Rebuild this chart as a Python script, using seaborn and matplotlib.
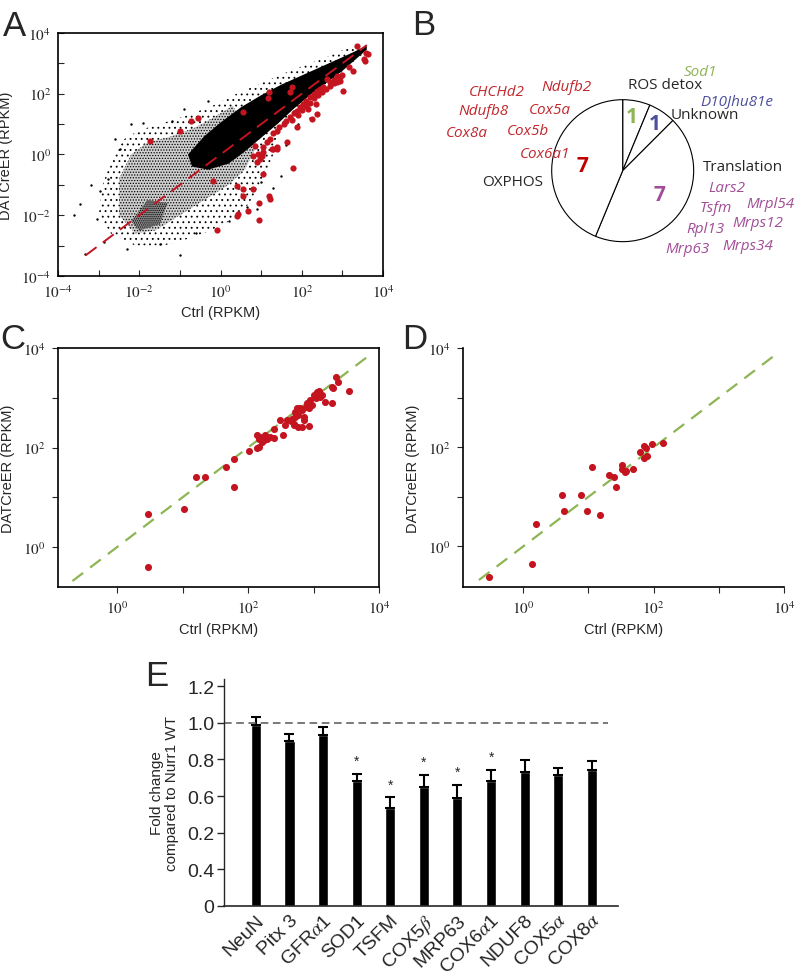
import numpy as np
import pandas as pd
import seaborn as sns
import matplotlib.pyplot as plt
from matplotlib.ticker import FixedLocator, FuncFormatter, NullLocator

# ---- panel A (log10 values) ----
# outlines of the dense core, the medium and the sparse parts of the black cloud
core_x = [-0.8, -0.4, 0.0, 0.5, 1.0, 1.5, 2.0, 2.5, 3.0, 3.4, 3.6,
          3.6, 3.3, 3.0, 2.6, 2.2, 1.8, 1.4, 1.0, 0.6, 0.2, -0.3, -0.7]
core_y = [0.0, 0.6, 1.05, 1.55, 1.95, 2.3, 2.6, 2.9, 3.2, 3.45, 3.6,
          3.45, 3.1, 2.75, 2.35, 1.95, 1.5, 1.0, 0.55, 0.1, -0.3, -0.5, -0.4]
mid_x = [-2.5, -2.2, -1.8, -1.2, -0.6, -0.2, 0.3, 0.9, 0.6, 0.2, -0.4, -1.0, -1.6, -2.1, -2.5]
mid_y = [-0.8, 0.0, 0.4, 0.6, 0.9, 1.2, 1.6, 0.3, -0.5, -1.0, -1.5, -2.0, -2.5, -2.6, -2.0]
knot_x = [-2.2, -1.8, -1.3, -1.5, -2.0]
knot_y = [-2.2, -1.5, -1.6, -2.3, -2.5]
outer_x = [-3.0, -2.9, -2.7, -2.5, -2.0, -1.5, -0.8, -0.2, 0.4, 1.0, 1.8, 2.6, 3.3,
           3.5, 2.8, 2.0, 1.5, 1.3, 1.0, 0.6, 0.1, -0.6, -1.4, -2.1, -2.7]
outer_y = [-2.0, -1.0, -0.2, 0.4, 0.8, 1.0, 1.3, 1.6, 2.0, 2.35, 2.8, 3.2, 3.6,
           3.3, 2.5, 1.6, 0.9, 0.0, -1.0, -1.8, -2.3, -2.7, -3.0, -3.0, -2.6]
black_a = [(-3.46, -1.63), (-2.97, -1.19), (-3.05, -2.12), (-3.34, -3.28), (-2.88, -2.89),
           (-1.49, -2.95), (-2.76, -0.81), (-2.47, 0.18), (0.64, -1.74), (-3.2, -1.0),
           (-2.6, 0.5), (-1.9, 1.05), (-1.2, 1.1), (-0.9, 1.5), (-0.3, 1.75), (0.9, -1.8),
           (1.3, -1.1), (1.5, -0.7), (-2.2, 1.0), (-0.6, -2.6), (0.2, -2.2), (-3.6, -2.0),
           (-2.3, -3.1), (1.0, -0.9), (2.2, 1.2), (1.6, 0.3), (1.9, 1.0), (-1.0, -3.3)]
red_a = [(3.37, 3.58), (3.57, 3.33), (3.64, 3.31), (3.52, 3.14), (3.56, 3.07), (3.15, 2.87),
         (3.27, 2.76), (3.02, 2.10), (2.86, 2.38), (2.70, 2.38), (2.53, 2.21), (2.37, 2.10),
         (2.20, 1.88), (2.04, 1.66), (1.88, 1.44), (1.71, 1.22), (1.55, 1.00), (1.38, 0.78),
         (1.22, 0.51), (1.05, 0.24), (0.93, 0.02), (1.20, 2.05), (1.18, 1.85), (1.75, 2.21),
         (1.71, 2.05), (0.56, 1.39), (2.37, 1.33), (2.24, 1.17), (1.88, 0.90), (1.63, 0.40),
         (1.38, 0.24), (1.26, 0.18), (2.86, 2.59), (2.94, 2.43), (2.61, 2.49), (-1.74, 0.45),
         (-1.0, 0.76), (-0.73, 1.09), (-0.55, 1.19), (-0.18, -0.87), (-0.08, -2.49),
         (0.40, -1.03), (0.44, -1.97), (0.40, -2.02), (0.56, -1.14), (0.56, -1.36),
         (0.68, -1.86), (0.81, -1.14), (0.95, -1.60), (0.95, -2.15), (1.05, -0.65),
         (1.20, -1.36), (1.22, -1.47), (1.14, 0.40), (1.30, 0.18), (1.38, 0.18), (1.79, -0.43),
         (0.81, -0.04), (0.89, -0.26), (1.01, -0.04), (1.05, 0.07), (0.85, 0.29), (0.97, -0.15),
         (3.0, 2.6), (2.95, 2.55), (2.8, 2.45), (2.45, 2.15), (2.3, 2.0), (2.1, 1.75),
         (1.95, 1.55), (1.8, 1.35), (1.6, 1.1), (1.45, 0.9), (1.3, 0.7), (2.0, 1.45),
         (2.1, 1.6), (2.2, 1.7), (2.3, 1.85), (2.4, 1.95), (2.5, 2.05), (2.6, 2.15),
         (2.7, 2.25), (2.15, 1.5), (2.35, 1.65), (1.9, 1.3), (1.75, 1.15), (2.8, 2.35)]
diag_a = [-3.32, 3.6]

# ---- panel B ----
pie_groups = ['ROS detox', 'Unknown', 'Translation', 'OXPHOS']
pie_counts = [1, 1, 7, 7]
oxphos_genes = ['CHCHd2', 'Ndufb2', 'Ndufb8', 'Cox5a', 'Cox8a', 'Cox5b', 'Cox6a1']
transl_genes = ['Lars2', 'Tsfm', 'Mrpl54', 'Rpl13', 'Mrps12', 'Mrp63', 'Mrps34']

# ---- panel C / D (log10) ----
c_x = [0.48, 0.48, 1.02, 1.20, 1.35, 1.66, 1.79, 1.78, 2.01, 2.14, 2.16, 2.13, 2.19, 2.24, 2.29,
       2.34, 2.39, 2.26, 2.21, 2.16, 2.40, 2.53, 2.49, 2.57, 2.65, 2.70, 2.67, 2.72, 2.72, 2.77,
       2.80, 2.82, 2.85, 2.88, 2.90, 2.93, 2.95, 2.98, 3.00, 3.03, 3.05, 3.08, 3.10, 3.13, 3.18,
       3.28, 3.30, 3.35, 3.38, 3.54, 2.77, 2.82, 2.93, 2.70, 2.60, 2.75, 2.85, 3.28]
c_y = [0.67, -0.40, 0.77, 1.41, 1.40, 1.60, 1.77, 1.21, 1.93, 2.00, 2.01, 2.26, 2.21, 2.15, 2.18,
       2.21, 2.19, 2.26, 2.11, 2.18, 2.37, 2.25, 2.55, 2.45, 2.53, 2.48, 2.58, 2.62, 2.72, 2.66,
       2.79, 2.75, 2.62, 2.82, 2.89, 2.79, 2.95, 2.85, 3.05, 2.99, 3.12, 3.13, 3.02, 3.05, 2.92,
       2.89, 3.20, 3.42, 3.32, 3.14, 2.42, 2.42, 2.44, 2.45, 2.55, 2.79, 2.55, 3.22]
d_x = [-0.53, 0.13, 0.20, 0.59, 0.62, 0.88, 0.98, 1.05, 1.18, 1.31, 1.39, 1.42, 1.52, 1.52,
       1.56, 1.58, 1.69, 1.79, 1.86, 1.88, 1.86, 1.90, 1.98, 2.14]
d_y = [-0.61, -0.36, 0.46, 1.04, 0.71, 1.04, 0.71, 1.60, 0.63, 1.45, 1.41, 1.19, 1.64, 1.56,
       1.51, 1.53, 1.57, 1.91, 2.02, 1.98, 1.78, 1.83, 2.06, 2.08]
diag_cd = [-0.68, 3.84]

# ---- panel E ----
genes = ['NeuN', 'Pitx 3', r'GFR$\alpha$1', 'SOD1', 'TSFM', r'COX5$\beta$', 'MRP63',
         r'COX6$\alpha$1', 'NDUF8', r'COX5$\alpha$', r'COX8$\alpha$']
fold = [0.99, 0.90, 0.935, 0.68, 0.535, 0.65, 0.59, 0.68, 0.73, 0.715, 0.745]
sem = [0.04, 0.04, 0.043, 0.04, 0.058, 0.065, 0.072, 0.063, 0.065, 0.037, 0.048]
signif = [False, False, False, True, True, True, True, True, False, False, False]
ytick_vals = [0, 0.2, 0.4, 0.6, 0.8, 1.0, 1.2]
ytick_text = ['0', '0.4', '0.2', '0.6', '0.8', '1.0', '1.2']

RED = '#c3141f'
GREEN = '#8db554'

sns.set_theme(style='ticks')
plt.rcParams['font.family'] = ['Liberation Sans', 'DejaVu Sans']
plt.rcParams['mathtext.fontset'] = 'stix'
plt.rcParams['hatch.linewidth'] = 0.6

fig = plt.figure(figsize=(7.96, 9.78), dpi=100)

pow_fmt = FuncFormatter(lambda v, p: '$10^{%d}$' % round(np.log10(v)) if round(np.log10(v)) % 2 == 0 else '')


def log_axes(ax, xlim, ylim, xt, yt, inward):
    ax.set_xscale('log')
    ax.set_yscale('log')
    ax.set_xlim(10 ** xlim[0], 10 ** xlim[1])
    ax.set_ylim(10 ** ylim[0], 10 ** ylim[1])
    ax.xaxis.set_major_locator(FixedLocator([10.0 ** k for k in xt]))
    ax.yaxis.set_major_locator(FixedLocator([10.0 ** k for k in yt]))
    ax.xaxis.set_minor_locator(NullLocator())
    ax.yaxis.set_minor_locator(NullLocator())
    ax.xaxis.set_major_formatter(pow_fmt)
    ax.yaxis.set_major_formatter(pow_fmt)
    ax.tick_params(direction='in' if inward else 'out', length=4, width=0.8,
                   labelsize=11, pad=5, top=False, right=False)
    ax.set_xlabel('Ctrl (RPKM)', fontsize=10.5, labelpad=4)
    ax.set_ylabel('DATCreER (RPKM)', fontsize=10.5, labelpad=6)
    for s in ax.spines.values():
        s.set_linewidth(1.2)
        s.set_color('black')


def cloud(ax, xs, ys, hatch, face='none'):
    ax.fill(10 ** np.array(xs), 10 ** np.array(ys), facecolor=face, edgecolor='black',
            hatch=hatch, lw=0)


# A
axA = fig.add_axes([0.0729, 0.7168, 0.4083, 0.2485])
cloud(axA, outer_x, outer_y, '...')
cloud(axA, mid_x, mid_y, '......', face='#cfcfcf')
cloud(axA, knot_x, knot_y, '........', face='#8a8a8a')
axA.fill(10 ** np.array(core_x), 10 ** np.array(core_y), color='black', lw=0)
bk = pd.DataFrame(black_a, columns=['x', 'y'])
sns.scatterplot(x=10 ** bk['x'], y=10 ** bk['y'], color='black', s=3, linewidth=0, ax=axA)
rd = pd.DataFrame(red_a, columns=['x', 'y'])
sns.scatterplot(x=10 ** rd['x'], y=10 ** rd['y'], color=RED, s=20, linewidth=0, ax=axA, zorder=3)
axA.plot(10 ** np.array(diag_a), 10 ** np.array(diag_a), color=RED, lw=1.4, dashes=(7, 4), zorder=4)
log_axes(axA, (-4, 4), (-4, 4), range(-4, 5), range(-4, 5), True)

# B
axB = fig.add_axes([0.5276, 0.6933, 0.4724, 0.2658])
axB.pie(pie_counts, startangle=90, counterclock=False, colors=['white'] * 4,
        wedgeprops=dict(edgecolor='black', linewidth=0.8))
axB.set_xlim(-2.855, 2.441)
axB.set_ylim(-1.807, 1.855)
axB.set_aspect('auto')
axB.axis('off')
num_style = dict(fontsize=15, fontweight='bold', ha='center', va='center', family='Open Sans')
axB.text(0.127, 0.77, str(pie_counts[0]), color=GREEN, **num_style)
axB.text(0.455, 0.658, str(pie_counts[1]), color='#4c4f9c', **num_style)
axB.text(0.52, -0.342, str(pie_counts[2]), color='#a14d97', **num_style)
axB.text(-0.563, 0.08, str(pie_counts[3]), color='#c00000', **num_style)
lab = dict(fontsize=11, family='Open Sans', va='center')
axB.text(0.596, 1.221, pie_groups[0], ha='center', **lab)
axB.text(0.676, 0.785, pie_groups[1], ha='left', **lab)
axB.text(1.127, 0.052, pie_groups[2], ha='left', **lab)
axB.text(-1.549, -0.155, pie_groups[3], ha='center', **lab)
gl = dict(fontsize=11, family='Open Sans', style='italic', ha='center', va='center')
axB.text(1.089, 1.404, 'Sod1', color=GREEN, **gl)
axB.text(1.606, 0.986, 'D10Jhu81e', color='#4c4f9c', **gl)
ox_pos = [(-1.775, 1.113), (-0.789, 1.179), (-1.963, 0.841), (-1.024, 0.855),
          (-2.197, 0.531), (-1.334, 0.559), (-1.094, 0.235)]
for g, (px, py) in zip(oxphos_genes, ox_pos):
    axB.text(px, py, g, color='#c0282d', **gl)
tr_pos = [(1.469, -0.239), (1.314, -0.521), (2.075, -0.469), (1.159, -0.821),
          (1.906, -0.737), (0.906, -1.103), (1.765, -1.061)]
for g, (px, py) in zip(transl_genes, tr_pos):
    axB.text(px, py, g, color='#a14d97', **gl)

# C
axC = fig.add_axes([0.0729, 0.3988, 0.4033, 0.2444])
axC.plot(10 ** np.array(diag_cd), 10 ** np.array(diag_cd), color=GREEN, lw=1.6, dashes=(6, 4))
sns.scatterplot(x=10 ** np.array(c_x), y=10 ** np.array(c_y), color=RED, s=26, linewidth=0, ax=axC, zorder=3)
log_axes(axC, (-0.9, 4), (-0.8, 4), range(0, 5), range(0, 5), False)

# D
axD = fig.add_axes([0.582, 0.3988, 0.4029, 0.2441])
axD.plot(10 ** np.array(diag_cd), 10 ** np.array(diag_cd), color=GREEN, lw=1.6, dashes=(6, 4))
sns.scatterplot(x=10 ** np.array(d_x), y=10 ** np.array(d_y), color=RED, s=26, linewidth=0, ax=axD, zorder=3)
log_axes(axD, (-0.92, 4), (-0.82, 4), range(0, 5), range(0, 5), False)
axD.spines['top'].set_visible(False)
axD.spines['right'].set_visible(False)

# E
axE = fig.add_axes([0.2814, 0.0729, 0.495, 0.2318])
dfE = pd.DataFrame({'gene': genes, 'fold': fold})
sns.barplot(data=dfE, x='gene', y='fold', order=genes, color='black', width=0.3,
            errorbar=None, ax=axE, saturation=1)
xs = np.arange(len(genes))
axE.errorbar(xs, fold, yerr=[np.zeros(len(sem)), sem], fmt='none', ecolor='black',
             elinewidth=1.5, capsize=3.5, capthick=1.5)
for xi, f, e, s in zip(xs, fold, sem, signif):
    if s:
        axE.text(xi, f + e + 0.07, '*', ha='center', va='center', fontsize=10)
axE.plot([-0.95, 10.49], [1.0, 1.0], color='#555555', lw=1.1, dashes=(5, 3))
axE.set_xlim(-0.95, 10.78)
axE.set_ylim(0, 1.24)
axE.set_yticks(ytick_vals)
axE.set_yticklabels(ytick_text)
axE.set_xticks(xs)
axE.set_xticklabels(genes, rotation=45, ha='right', rotation_mode='anchor')
axE.tick_params(axis='y', labelsize=14, length=5, width=1, pad=2)
axE.tick_params(axis='x', labelsize=14, length=0, pad=4)
axE.set_xlabel('')
axE.set_ylabel('Fold change\ncompared to Nurr1 WT', fontsize=11, labelpad=6, linespacing=1.1)
sns.despine(ax=axE)
axE.spines['left'].set_linewidth(1)
axE.spines['bottom'].set_linewidth(1.2)

# panel letters
for lx, ly, t in [(3, 36, 'A'), (412, 35, 'B'), (0, 349, 'C'), (402, 349, 'D'), (145, 686, 'E')]:
    fig.text(lx / 796, 1 - ly / 978, t, fontsize=25, va='baseline', ha='left')

fig.savefig('out.png', dpi=100)
